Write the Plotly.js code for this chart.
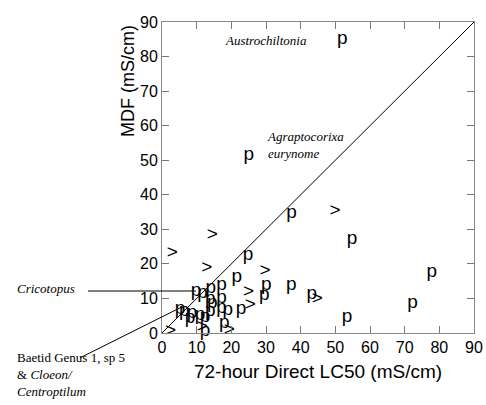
<!DOCTYPE html>
<html>
<head>
<meta charset="utf-8">
<script src="https://cdn.plot.ly/plotly-3.0.1.min.js"></script>
<style>html,body{margin:0;padding:0;background:#fff}#chart{width:486px;height:405px}</style>
</head>
<body>
<div id="chart"></div>
<script>
// Taxa with "p" symbol: 72-hour direct LC50 vs MDF (mS/cm)
var pX = [52, 25, 37.4, 54.8, 24.8, 21.6, 30.1, 29.5, 37.3, 43.2, 53.4, 77.8, 72.3,
          17.2, 14.1, 9.8, 11.7, 13.9, 17.2, 5.2, 6.4, 8.7, 11, 13.9, 17.2, 19, 22.8,
          8.1, 12.4, 18, 12.4, 14.5];
var pY = [85, 51.5, 34.6, 27, 22.6, 16.2, 13.9, 11, 13.9, 11.3, 4.5, 17.7, 8.6,
          13.9, 12.9, 12, 11.5, 9.8, 10, 6.9, 6.2, 5.7, 5.2, 6.4, 7.3, 6.7, 6.9,
          4.2, 4.7, 2.8, 0.4, 8.6];
// Taxa with ">" symbol
var gX = [14.5, 3.0, 12.9, 29.7, 49.9, 44.8, 25, 25.5, 19.4, 2.5, 11.6];
var gY = [28.4, 23.2, 18.6, 18, 35.1, 9.8, 11.8, 8, 0.9, 0.4, 1.8];
// 1:1 line
var lineX = [0, 90];
var lineY = [0, 90];
var ticks = [0, 10, 20, 30, 40, 50, 60, 70, 80, 90];

var symFont = {family: 'Liberation Sans, Arial, sans-serif', size: 19, color: '#000'};
var data = [
  {x: lineX, y: lineY, mode: 'lines', line: {color: '#000', width: 1}, hoverinfo: 'skip', showlegend: false},
  {x: pX, y: pY, mode: 'text', text: pX.map(function(){return 'p';}), textposition: 'middle center',
   textfont: symFont, showlegend: false, cliponaxis: false},
  {x: gX, y: gY, mode: 'text', text: gX.map(function(){return '>';}), textposition: 'middle center',
   textfont: symFont, showlegend: false, cliponaxis: false}
];

var axisCommon = {
  range: [0, 90], tickvals: ticks, ticktext: ticks.map(String),
  ticks: 'inside', ticklen: 7, tickcolor: '#777', tickwidth: 1,
  showline: true, linecolor: '#888', linewidth: 1, mirror: 'ticks',
  showgrid: false, zeroline: false,
  tickfont: {family: 'Liberation Sans, Arial, sans-serif', size: 16, color: '#000'}
};
var serif = {family: 'Liberation Serif, Times New Roman, serif', size: 13, color: '#000'};

var layout = {
  width: 486, height: 405,
  margin: {l: 162, r: 12, t: 22, b: 72},
  paper_bgcolor: '#fff', plot_bgcolor: '#fff',
  xaxis: Object.assign({}, axisCommon, {
    title: {text: '72-hour Direct LC50 (mS/cm)', standoff: 9,
            font: {family: 'Liberation Sans, Arial, sans-serif', size: 19, color: '#000'}}
  }),
  yaxis: Object.assign({}, axisCommon, {}),
  shapes: [
    {type: 'line', xref: 'paper', yref: 'paper', x0: -0.237, y0: 0.135, x1: 0.109, y1: 0.135,
     line: {color: '#000', width: 1}},
    {type: 'line', xref: 'paper', yref: 'paper', x0: -0.263, y0: -0.080, x1: 0.064, y1: 0.084,
     line: {color: '#000', width: 1}}
  ],
  annotations: [
    {xref: 'paper', yref: 'paper', x: -0.109, y: 0.81, text: 'MDF (mS/cm)', textangle: -90,
     showarrow: false, xanchor: 'center', yanchor: 'middle',
     font: {family: 'Liberation Sans, Arial, sans-serif', size: 18, color: '#000'}},
    {xref: 'paper', yref: 'paper', x: 0.333, y: 0.942, text: '<i>Austrochiltonia</i>',
     showarrow: false, xanchor: 'center', yanchor: 'middle', font: serif},
    {xref: 'paper', yref: 'paper', x: 0.330, y: 0.603, text: '<i>Agraptocorixa</i><br><i>eurynome</i>',
     showarrow: false, xanchor: 'left', yanchor: 'middle', align: 'left', font: serif},
    {xref: 'paper', yref: 'paper', x: -0.471, y: 0.143, text: '<i>Cricotopus</i>',
     showarrow: false, xanchor: 'left', yanchor: 'middle', font: serif},
    {xref: 'paper', yref: 'paper', x: -0.471, y: -0.048, text: 'Baetid Genus 1, sp 5<br>&amp; <i>Cloeon/</i><br><i>Centroptilum</i>',
     showarrow: false, xanchor: 'left', yanchor: 'top', align: 'left', font: serif}
  ]
};

Plotly.newPlot('chart', data, layout, {displayModeBar: false, staticPlot: true});
</script>
</body>
</html>
